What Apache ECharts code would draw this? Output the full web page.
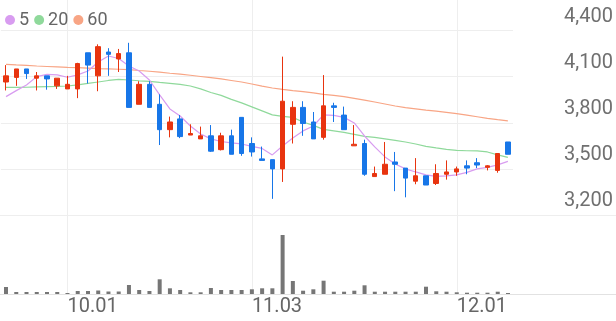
<!DOCTYPE html>
<html>
<head>
<meta charset="utf-8">
<script src="https://cdn.jsdelivr.net/npm/echarts@6/dist/echarts.min.js"></script>
<style>
html,body{margin:0;padding:0;background:#fff;}
#chart{width:616px;height:321px;}
</style>
</head>
<body>
<div id="chart"></div>
<script>
// trading days (2025)
var dates = ['09.23','09.24','09.25','09.26','09.29','09.30','10.01','10.02','10.10','10.13',
  '10.14','10.15','10.16','10.17','10.20','10.21','10.22','10.23','10.24','10.27',
  '10.28','10.29','10.30','10.31','11.03','11.04','11.05','11.06','11.07','11.10',
  '11.11','11.12','11.13','11.14','11.17','11.18','11.19','11.20','11.21','11.24',
  '11.25','11.26','11.27','11.28','12.01','12.02','12.03','12.04','12.05','12.08'];
var tickLabels = ['10.01','11.03','12.01'];

var openP  = [4065,4095,4150,4090,4105,4040,4020,4020,4255,4105,4260,4215,4255,3920,4050,3920,3755,3825,3720,3695,
              3715,3625,3715,3835,3665,3565,3560,3500,3790,3900,3805,3705,3910,3850,3650,3665,3450,3465,3545,3505,
              3420,3455,3405,3465,3480,3520,3540,3510,3490,3675];
var closeP = [4105,4150,4120,4105,4085,4090,4050,4185,4175,4295,4245,4250,3900,4050,3900,3755,3805,3710,3730,3715,
              3615,3715,3595,3600,3610,3555,3500,3940,3900,3795,3695,3910,3900,3755,3660,3465,3470,3530,3530,3440,
              3455,3395,3470,3480,3500,3505,3525,3520,3600,3595];
var lowP   = [4010,4040,4085,4010,4015,4020,4020,3960,4055,4005,4105,4130,3900,3920,3900,3655,3705,3700,3720,3695,
              3610,3620,3595,3585,3580,3555,3305,3415,3665,3715,3695,3690,3805,3755,3650,3455,3450,3465,3355,3315,
              3400,3395,3395,3430,3455,3465,3505,3490,3475,3595];
var highP  = [4175,4150,4150,4130,4105,4090,4105,4190,4255,4310,4285,4280,4320,4070,4070,3985,3840,3850,3790,3775,
              3785,3735,3755,3835,3705,3645,3560,4230,3940,3940,3870,4110,3930,3905,3785,3690,3515,3675,3610,3505,
              3570,3455,3530,3555,3515,3555,3570,3525,3600,3675];
var volume = [70000,20000,20000,20000,20000,20000,10000,30000,30000,35000,25000,25000,90000,40000,30000,147000,57000,40000,17000,17000,
              60000,40000,40000,40000,47000,57000,57000,590000,130000,33000,47000,133000,23000,23000,33000,87000,23000,23000,23000,23000,
              23000,73000,27000,23000,17000,13000,13000,13000,23000,10000];
var ma5  = [3970,4009,4046,4100,4115,4111,4096,4111,4137,4195,4234,4218,4169,4137,4078,3981,3890,3844,3779,3727,
            3695,3678,3669,3662,3646,3633,3591,3649,3701,3747,3779,3851,3848,3835,3799,3714,3643,3578,3532,3500,
            3480,3461,3451,3454,3461,3477,3500,3510,3526,3549];
var ma20 = [4030,4030,4031,4033,4035,4036,4039,4046,4056,4065,4075,4082,4078,4073,4069,4062,4056,4049,4039,4020,
            3997,3978,3952,3929,3903,3877,3851,3841,3835,3805,3783,3757,3747,3737,3724,3711,3705,3695,3685,3675,
            3662,3646,3636,3627,3620,3618,3617,3610,3591,3575];
var ma60 = [4180,4176,4173,4169,4166,4163,4160,4158,4155,4152,4150,4148,4146,4140,4135,4129,4122,4116,4109,4101,
            4093,4085,4075,4065,4052,4038,4026,4017,4009,4002,3994,3985,3978,3970,3959,3947,3935,3922,3909,3898,
            3890,3882,3875,3867,3859,3849,3839,3829,3820,3812];
var priceTicks = [3200,3500,3800,4100,4400];

var UP = '#e8340f', DOWN = '#1776e8';
var candles = dates.map(function(d,i){ return [openP[i], closeP[i], lowP[i], highP[i]]; });
var FONT = 'Roboto';
var gridL = 0.9, gridR = 102.9;

var chart = echarts.init(document.getElementById('chart'), null, {renderer:'canvas'});
chart.setOption({
  animation:false,
  backgroundColor:'#ffffff',
  legend:{
    data:['5','20','60'], left:0, top:6, icon:'circle',
    itemWidth:10, itemHeight:10, itemGap:5,
    textStyle:{fontSize:18, color:'#666', fontFamily:FONT, padding:[0,0,0,-1]}
  },
  grid:[
    {left:gridL, right:gridR, top:30.5, height:184.5},
    {left:gridL, right:gridR, top:215, bottom:27},
    {left:6, right:108, top:0, bottom:27}
  ],
  xAxis:[
    {type:'category', gridIndex:0, data:dates, boundaryGap:true,
      axisLine:{show:false}, axisTick:{show:false}, axisLabel:{show:false}, splitLine:{show:false}},
    {type:'category', gridIndex:1, data:dates, boundaryGap:true,
      axisLine:{show:false}, axisTick:{show:false}, splitLine:{show:false},
      axisLabel:{show:true, align:'left', margin:3, fontSize:20, color:'#666', fontFamily:FONT,
        interval:function(idx, val){ return tickLabels.indexOf(val) >= 0; }}},
    {type:'category', gridIndex:2, data:dates, boundaryGap:false,
      axisLine:{show:false}, axisTick:{show:false}, axisLabel:{show:false},
      splitLine:{show:true, lineStyle:{color:'#eeeeee', width:1},
        interval:function(idx, val){ return tickLabels.indexOf(val) >= 0; }}}
  ],
  yAxis:[
    {type:'value', gridIndex:0, position:'right', min:priceTicks[0], max:priceTicks[priceTicks.length-1], interval:300,
      axisLine:{show:false}, axisTick:{show:false},
      splitLine:{show:true, lineStyle:{color:'#eeeeee', width:1}},
      axisLabel:{show:true, align:'right', verticalAlign:'bottom', lineHeight:28, margin:100,
        fontSize:20, color:'#707070', fontFamily:FONT,
        formatter:function(v){ return v.toLocaleString('en-US'); }}},
    {type:'value', gridIndex:1, min:0, max:790000,
      axisLine:{show:false}, axisTick:{show:false}, axisLabel:{show:false}, splitLine:{show:false}},
    {type:'value', gridIndex:2, show:false}
  ],
  series:[
    {name:'60', type:'line', xAxisIndex:0, yAxisIndex:0, data:ma60, symbol:'none', z:1,
      lineStyle:{color:'#f8a585', width:1.2}, itemStyle:{color:'#f8a585'}},
    {name:'20', type:'line', xAxisIndex:0, yAxisIndex:0, data:ma20, symbol:'none', z:1,
      lineStyle:{color:'#8fd99b', width:1.2}, itemStyle:{color:'#8fd99b'}},
    {name:'5', type:'line', xAxisIndex:0, yAxisIndex:0, data:ma5, symbol:'none', z:1,
      lineStyle:{color:'#d89cf0', width:1.2}, itemStyle:{color:'#d89cf0'}},
    {name:'price', type:'candlestick', xAxisIndex:0, yAxisIndex:0, data:candles, barWidth:5, z:3,
      itemStyle:{color:UP, color0:DOWN, borderColor:UP, borderColor0:DOWN, borderColorDoji:UP, borderWidth:1}},
    {name:'volume', type:'bar', xAxisIndex:1, yAxisIndex:1, data:volume, barWidth:4,
      itemStyle:{color:'#767676'}}
  ],
  graphic:[
    {type:'line', shape:{x1:0, y1:215.5, x2:616, y2:215.5}, style:{stroke:'#eeeeee', lineWidth:1}, z:0, silent:true},
    {type:'line', shape:{x1:0, y1:294.5, x2:616, y2:294.5}, style:{stroke:'#e2e2e2', lineWidth:1}, z:0, silent:true}
  ]
});
</script>
</body>
</html>
